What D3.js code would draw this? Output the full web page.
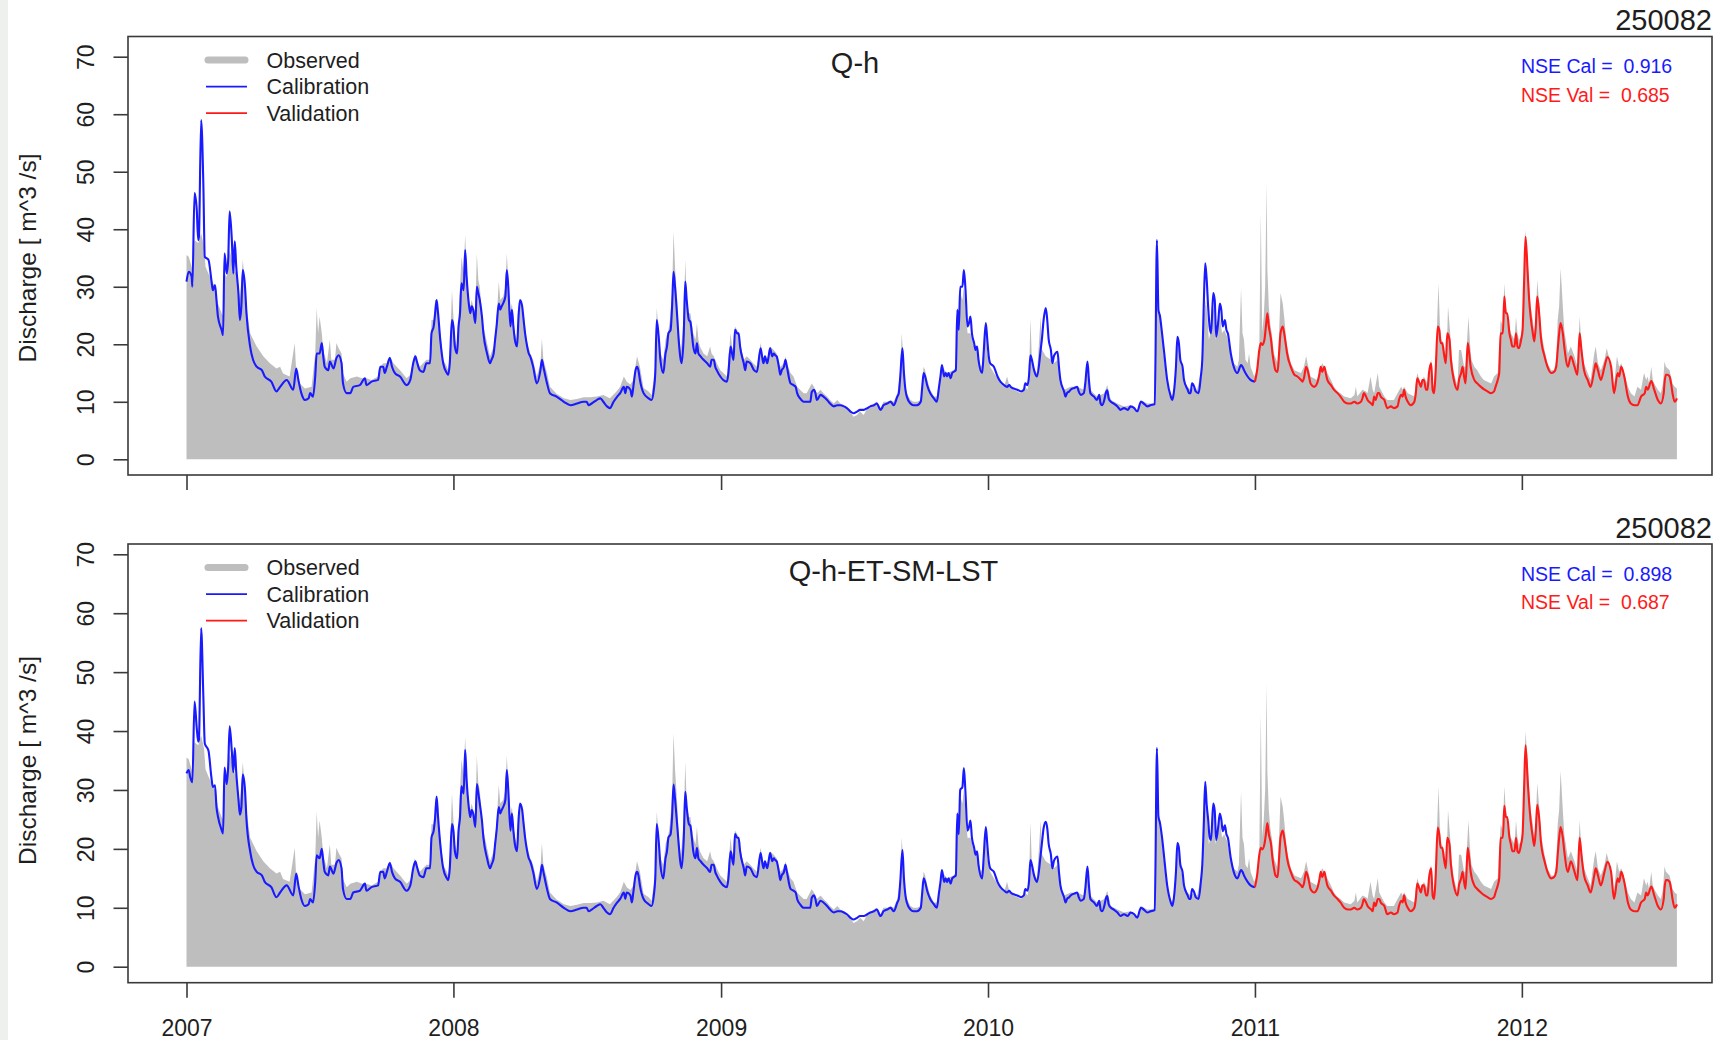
<!DOCTYPE html>
<html>
<head>
<meta charset="utf-8">
<script src="https://cdn.jsdelivr.net/npm/d3@7"></script>
<style>
  html, body { margin: 0; padding: 0; background: #ffffff; }
  svg { display: block; font-family: "Liberation Sans", Arial, Helvetica, sans-serif; }
</style>
</head>
<body>
<svg id="chart" width="1722" height="1040"></svg>
<script>
// ---- Chart content --------------------------------------------------------
const stationId = "250082";
const panelTitles = ["Q-h", "Q-h-ET-SM-LST"];
const nseCal = [0.916, 0.898];
const nseVal = [0.685, 0.687];
const legendLabels = ["Observed", "Calibration", "Validation"];
const yearTicks = [2007, 2008, 2009, 2010, 2011, 2012];
const yTicks = [0, 10, 20, 30, 40, 50, 60, 70];
const yAxisTitle = "Discharge [ m^3 /s]";

// Series are [days since 2007-01-01, discharge m^3/s]
const validationStartDay = 1461; // 2011-01-01

const observed = [
  [0,35.5],[3,35.2],[7,33.5],[9,32.3],[11,38.1],[16,37.6],[20,39.3],[24,37],[26,33.5],[30,32.3],[34,31.2],[39,30],
  [43,27.1],[48,25.4],[50,25],[52,32.3],[55,31.7],[59,36.4],[64,33.5],[68,32.3],[73,27.7],[77,34.7],[80,30],[82,26.6],
  [87,21.9],[96,19.6],[105,17.9],[114,16.7],[123,15.8],[128,16.1],[132,14.9],[141,14.4],[148,20.2],[150,15.2],[155,13.2],
  [162,12.3],[171,12.6],[176,18.4],[178,26.3],[180,21.9],[182,24.8],[185,21.9],[187,19],[192,16.7],[196,20.8],[198,17.3],
  [203,17.3],[205,20.2],[208,19.3],[212,18.4],[214,14.9],[219,13.5],[224,14.1],[233,14.4],[240,14.1],[246,14.1],[253,13.8],
  [262,14.4],[265,16.1],[269,16.7],[274,16.7],[278,17.9],[283,16.7],[292,15.5],[301,14.1],[306,14.7],[310,16.7],[312,18.4],
  [315,17.3],[319,16.1],[328,17.3],
  [333,17.3],[335,24.2],[338,24.2],[340,27.7],[342,27.7],[347,21.9],[351,17.3],[356,16.1],[358,15.5],[360,18.4],[363,29.4],
  [365,24.8],[367,20.8],[370,19.6],[372,24.2],[374,30],[376,35.2],[379,32.3],[381,39],[383,33.5],[385,27.7],[388,26.6],
  [390,27.7],[392,26.6],[395,25.4],[397,35.8],[399,31.2],[401,30],[404,25.4],[406,23.1],[411,20.2],[415,17.9],[420,19.6],
  [422,21.9],[424,24.2],[427,30.9],[429,27.7],[433,28.3],[436,30],[438,35.8],[440,31.2],[442,25.4],[445,27.1],[447,24.2],
  [449,21.9],[452,20.8],[454,25.4],[456,27.7],[461,25.4],[465,20.8],[470,18.4],[474,17.3],[479,14.4],[484,16.7],[486,21],
  [488,17.3],[493,15],[497,12.6],[506,11.4],[516,10.6],[525,10.3],[534,10.5],[543,10.8],[552,10.8],[561,10.9],[570,11.2],
  [579,10.6],[588,11.8],[593,12.6],[598,14.4],[602,13.5],[607,13],[611,13.8],[616,17.9],[620,16.1],[625,12.4],[632,11.8],
  [636,11.2],[641,16.1],[643,26.3],[646,21.9],[648,18.4],[652,17.3],[655,20.8],[659,22.5],[661,24.2],[664,28.9],[666,39.6],
  [668,33.5],[671,27.7],[673,22],[676,19],
  [680,24.8],[682,34.7],[684,27.7],[687,25.4],[689,25.4],[693,21.9],[696,20.8],[698,23.7],[700,20.8],[702,19.6],[707,18.4],
  [712,17.9],[716,19.6],[718,18.4],[721,17.9],[725,16.7],[730,15.5],[734,15],[739,14.4],[744,21.9],[746,19.6],[748,18.4],
  [750,23.1],[753,22.5],[755,21.9],[757,20.2],[762,17.3],[766,17.9],[771,17.3],[775,16.7],[780,16.1],[785,20.2],[789,17.3],
  [794,17.3],[798,19.6],[803,19],[807,18.4],[812,16.1],[817,16.7],[819,17.9],[821,16.7],[826,15],[830,14.4],[835,12.6],
  [839,12.1],[844,11.5],[848,11.5],[855,13.2],[858,12.6],[862,11.5],[867,12.1],[871,11.5],[876,10.9],[880,10.3],[885,9.7],
  [890,10.3],[894,9.7],[899,9.4],[903,8.9],[908,8.3],[912,7.4],[917,7.7],[921,8.3],[926,7.7],[931,8.9],[935,9.2],[940,9.7],
  [944,10],[949,8.9],[953,10],[958,10],[963,10.3],[967,10],[972,11.5],[976,15],[978,21.9],[981,16.1],[983,12.6],[985,11.5],
  [990,10.3],[994,10],[999,10],[1004,10.3],[1006,13.8],[1008,16.1],[1010,15.5],[1013,13.8],[1017,12.1],
  [1022,10.9],[1026,10.9],[1031,14.4],[1033,16.1],[1040,15],[1049,15.5],[1052,16.1],[1054,26.6],[1056,22.5],[1058,28.9],
  [1061,27.7],[1063,30],[1065,26.6],[1068,21.9],[1072,21.9],[1077,19.6],[1079,19.9],[1081,19],[1086,16.1],[1090,16.7],
  [1093,22.5],[1095,18.4],[1099,16.1],[1104,15],[1109,14.1],[1113,13.2],[1118,12.6],[1122,14.4],[1125,12.9],[1131,12.1],
  [1141,11.5],[1147,12.6],[1150,12.1],[1152,13.8],[1154,24.5],[1156,17.3],[1159,15.5],[1163,15],[1168,24.8],[1170,19],
  [1175,17.9],[1182,17.3],[1186,16.7],[1191,17.3],[1195,13.8],[1200,12.1],[1209,12.6],[1218,12.6],[1227,12.1],[1232,16.1],
  [1236,12.1],[1245,10.9],[1255,11.5],[1259,12.9],[1264,10.3],[1273,9.7],[1282,9.2],[1291,9.4],[1300,8],[1305,10.3],
  [1314,9.7],[1323,9.7],[1325,21.9],[1327,36.5],[1330,24.8],[1332,24.2],[1337,17.3],[1341,13.2],[1346,10.9],[1350,11.5],
  [1355,20.8],[1359,17.3],
  [1364,13.8],[1369,12.6],[1373,12.1],[1378,12.6],[1382,12.1],[1387,15],[1389,16.7],[1391,24.8],[1394,27.7],[1396,24.8],
  [1398,20.8],[1400,21.9],[1403,25.4],[1405,26.6],[1407,20.8],[1410,23.1],[1412,25.4],[1414,24.2],[1416,21.9],[1419,22.5],
  [1423,21.3],[1428,18.4],[1432,16.7],[1437,16.1],[1439,17.3],[1442,29.7],[1444,21.9],[1446,20.8],[1448,17.3],[1451,16.7],
  [1453,18.4],[1455,16.1],[1460,14.4],[1464,15.5],[1467,19.5],[1469,42.8],[1471,22],[1473,24.8],[1475,30],[1477,48],
  [1478,33],[1480,26.5],[1482,23.5],[1484,21.9],[1487,18.4],[1492,16.7],[1494,21.9],[1496,28.9],[1499,27.1],[1501,24.8],
  [1503,21.9],[1505,19.6],
  [1510,16.7],[1515,15.5],[1524,15],[1528,16.1],[1531,17.9],[1533,16.7],[1537,14.4],[1546,13.8],[1551,16.1],[1553,16.7],
  [1556,16.1],[1560,15],[1565,13.8],[1569,12.6],[1574,11.8],[1578,11.5],[1583,10.9],[1592,10.6],[1597,11.2],[1599,12.6],
  [1601,10.9],[1608,12.1],[1613,11.8],[1615,11.5],[1619,14.4],[1622,12.1],[1624,11.5],[1629,15],[1631,12.6],[1633,12.1],
  [1638,10.9],[1642,10.3],[1651,10.3],[1656,11.5],[1661,12.6],[1663,12.1],[1665,12.6],[1670,11.5],[1679,10.9],[1681,13.2],
  [1683,15],[1686,13.8],[1688,13.2],[1692,14.4],[1697,13.2],[1699,16.1],[1702,17.3],
  [1704,13.2],[1706,12.6],[1708,16.1],[1712,30.6],[1714,23.1],[1716,20.8],[1719,20.2],[1721,18.4],[1723,17.3],[1725,26.6],
  [1728,21.9],[1730,17.9],[1733,15],[1738,12.6],[1740,19],[1743,19],[1747,16.1],[1749,16.1],[1753,24.8],[1755,20.2],
  [1757,17.3],[1761,16.1],[1765,15.5],[1770,14.4],[1774,13.8],[1779,13.5],[1784,13.2],[1788,14.4],[1793,15],[1797,24.2],
  [1800,23.1],[1802,30.6],[1804,26.6],[1806,25.4],[1809,23.1],[1811,21.9],[1816,20.8],[1818,24.8],[1820,21.9],[1822,20.8],
  [1825,21.3],[1827,23.7],[1829,32.3],[1831,39.9],[1834,34.7],[1836,30],[1838,26.6],[1841,24.2],[1843,21.9],[1845,24.2],
  [1847,31.2],[1850,26.6],[1852,22.5],[1857,19],[1861,16.7],[1866,15.5],[1870,15.5],[1873,17.3],[1875,24.2],[1877,26.6],
  [1879,33.2],[1882,26.6],[1884,22.5],[1889,18.4],[1893,19.6],[1898,17.9],[1902,16.1],[1905,24.8],[1907,20.8],[1909,18.4],
  [1911,16.7],[1916,15],[1920,13.8],[1925,18.4],[1927,19.6],[1930,16.7],[1934,15.5],[1939,17.3],[1942,19.3],[1946,17.3],
  [1948,16.1],[1952,12.6],[1956,17.9],[1959,16.1],[1962,16.7],[1966,15],[1971,12.6],[1975,11.5],[1980,10.9],[1984,12.6],
  [1989,12.1],[1993,15],[1996,13.8],[1998,14.4],[2000,13.2],[2003,16.1],[2005,13.8],[2007,13.2],[2012,12.1],[2016,11.5],
  [2019,13.2],[2021,17],[2023,16.1],[2028,15.5],[2032,13.2],[2035,12.6],[2038,12.3]
];

// Simulated discharge, model calibrated on Q-h
const simQh = [
  [0,30.9],[3,32.6],[7,31.8],[8,30],[11,46.3],[14,43.4],[16,38.1],[17,38.7],[20,59],[23,48],[25,35.2],[30,34.7],[34,31.2],
  [36,29.4],[39,30.3],[41,27.7],[43,24.8],[48,22.5],[50,21.6],[52,35.8],[55,32.3],[57,34.7],[59,43.1],[62,38.1],[64,32.3],
  [66,37.9],[68,33.5],[71,28.9],[73,24.2],[75,26.6],[77,32.9],[80,30],[82,25.4],[87,19.6],[91,17.3],[96,16.1],[103,15.5],
  [107,14.4],[116,13.5],[123,11.8],[128,12.6],[137,13.8],[146,12.1],[150,15.8],[153,13.8],[157,11.5],[162,10.3],[167,10.6],
  [169,11.5],[173,10.9],[176,14.4],[178,18.4],[182,18.4],[185,20.2],[187,17.9],[189,16.1],[194,15.5],[196,17],[201,15.8],
  [205,17.6],[208,18.1],[212,16.7],[214,13.2],[219,11.5],[224,11.5],[228,12.6],[237,12.9],[244,14.1],[246,12.9],[253,13.5],
  [262,13.8],[265,16.1],[269,16.1],[271,15],[274,16.1],[278,17.6],[281,16.1],[285,15],[292,14.4],[301,12.9],[306,13.8],
  [310,16.7],[313,17.9],[315,17],[319,15.5],[324,15.2],[328,16.7],
  [333,16.7],[335,21.9],[338,23.1],[340,25.4],[342,27.7],[344,25.4],[347,20.8],[351,16.7],[356,15],[358,14.7],[360,16.7],
  [363,24.2],[365,23.1],[367,19.6],[370,18.4],[372,23.1],[374,25.4],[376,30.6],[379,29.4],[381,36.4],[383,31.8],[386,27.1],
  [388,25.4],[390,26.6],[392,26],[395,23.7],[397,30],[399,28.9],[401,27.7],[404,24.8],[406,21.9],[411,18.4],[415,16.7],
  [417,17.3],[420,18.4],[422,20.8],[424,23.1],[427,27.1],[429,26],[431,26.6],[433,27.1],[436,28.3],[438,32.9],[440,30],
  [443,23.1],[445,26],[447,23.1],[449,20.8],[452,19.6],[454,24.8],[456,27.7],[459,26.6],[461,24.2],[463,21.9],[465,20.2],
  [468,18.4],[470,17.9],[474,16.1],[479,13.2],[484,15.5],[486,17.3],[488,16.1],[493,13.2],[497,11.5],[506,10.9],[516,10],
  [525,9.4],[534,9.7],[543,10],[547,10],[550,9.4],[554,9.7],[561,10.3],[566,10.6],[570,10],[575,9.2],[579,8.9],[584,10],
  [589,10.9],[593,11.5],[598,12.6],[600,11.5],[602,12.6],[607,12.1],[609,10.9],[611,12.6],[614,15.5],[616,16.1],[618,15.5],
  [620,13.8],[625,11.5],[632,10.6],[636,10.3],[639,12.1],[641,15],[643,24.2],[646,20.8],[648,17.3],[652,15],[655,18.4],
  [657,19.6],[659,21.9],[662,22.5],[664,26.6],[666,32.6],[668,30],[671,24.8],[673,20.8],[675,18],
  [677,16.7],[680,21.9],[682,30.9],[684,27.7],[687,24.2],[689,23.9],[691,21.9],[693,19.6],[696,18.4],[698,20.2],[700,18.4],
  [703,17.9],[707,17.3],[712,16.7],[716,16.1],[718,17.3],[721,17.3],[723,16.1],[725,15.5],[730,14.4],[734,13.8],[739,13.5],
  [741,15],[744,19.6],[746,18.4],[748,17.3],[750,22.5],[753,21.9],[755,21.9],[757,19.6],[762,16.7],[764,15.5],[766,17],
  [771,16.7],[776,15.5],[780,15.2],[785,19.3],[787,17.9],[789,16.7],[791,17.9],[794,16.7],[796,17.9],[798,19.3],[801,17.9],
  [803,18.4],[805,18.1],[807,17.9],[810,16.1],[812,14.7],[814,15.5],[817,16.1],[819,17.3],[821,16.1],[826,13.2],[830,12.9],
  [833,12.6],[835,11.5],[839,10.6],[844,10],[848,10],[853,10],[855,11.7],[858,12.1],[860,11.5],[862,10.3],[867,11.2],
  [871,10.9],[876,10.3],[880,9.7],[885,9.2],[890,9.4],[894,9.4],[899,9.2],[903,8.9],[908,8.3],[912,8],[917,8.3],[921,8.6],
  [926,8.6],[931,8.9],[935,9.2],[940,9.4],[944,9.7],[949,8.6],[951,8.9],[953,9.4],[958,9.7],[963,10],[965,9.7],[967,9.4],
  [972,10.9],[974,11.5],[976,14.4],[979,19.3],[981,15.1],[983,12.2],[985,10.9],[990,9.7],[994,9.4],[999,9.4],[1004,10],
  [1006,12.5],[1008,15],[1010,14.4],[1013,12.8],[1017,11.5],
  [1022,10.6],[1026,10],[1029,12.6],[1031,14.4],[1033,16.4],[1036,14.4],[1038,15],[1040,14.4],[1042,15],[1045,14.1],
  [1047,15],[1049,15.2],[1052,15.5],[1054,26],[1056,22.5],[1058,30],[1061,30],[1063,32.9],[1065,30],[1068,23.1],[1070,23.7],
  [1072,24.8],[1074,21.9],[1077,20.2],[1079,19],[1081,19.6],[1083,17.3],[1088,15],[1090,18.4],[1093,23.7],[1095,20.8],
  [1097,17.9],[1099,16.7],[1104,16.1],[1109,14.4],[1113,13.5],[1118,12.9],[1122,12.6],[1125,12.9],[1127,12.6],[1131,12.3],
  [1136,12.1],[1141,11.8],[1145,12.1],[1147,13.2],[1150,12.9],[1152,14.4],[1154,18.1],[1156,17.3],[1159,15.5],[1163,14.4],
  [1168,19],[1170,21.3],[1172,24.2],[1175,26.3],[1177,24.2],[1179,20.8],[1182,19],[1184,16.7],[1186,17.9],[1188,18.4],
  [1191,18.7],[1193,16.1],[1195,13.8],[1200,11.8],[1202,10.9],[1204,11.5],[1207,11.8],[1209,12.1],[1214,12.4],[1218,12.6],
  [1220,11.8],[1223,11.2],[1227,11.5],[1229,13.2],[1232,17],[1234,13.8],[1236,11.5],[1241,10.9],[1245,10.3],[1248,11.2],
  [1250,9.7],[1252,9.4],[1255,10.3],[1257,11.5],[1259,12],[1261,10.6],[1264,10],[1268,9.7],[1273,9.2],[1277,8.6],[1282,8.9],
  [1287,8.6],[1291,9.2],[1296,8.9],[1300,8.3],[1305,10],[1309,9.7],[1314,9.2],[1318,9.4],[1324,9.6],[1327,38.1],[1329,26],
  [1331,25],[1334,21.9],[1337,18.4],[1341,13.8],[1346,10.9],[1348,10.3],[1350,11.5],[1353,16.1],[1355,21.3],[1357,20.2],
  [1359,17.3],
  [1362,16.1],[1364,13.8],[1369,12.1],[1371,11.5],[1373,11.5],[1375,13.2],[1378,12.6],[1380,11.8],[1384,11.5],[1387,14.4],
  [1389,17.3],[1391,26.6],[1393,34.1],[1395,31.3],[1397,26.6],[1399,23.1],[1401,21.9],[1404,28.9],[1406,27.7],[1408,21.3],
  [1411,24.2],[1413,27.1],[1415,26],[1417,23.1],[1420,24.2],[1422,22.5],[1424,21.9],[1428,18.4],[1432,16.1],[1437,15],
  [1442,16.4],[1444,16.1],[1446,15.5],[1451,14.4],[1455,13.8],[1461,13.5],
  [1464,15.5],[1467,19],[1469,20.2],[1471,19.9],[1474,20.8],[1476,23.1],[1478,25.4],[1480,23.1],[1483,20.8],[1485,18.4],
  [1487,16.7],[1489,15.5],[1492,15.2],[1494,18.4],[1496,21.9],[1499,23.1],[1501,21.9],[1503,20.2],[1505,18.4],[1510,16.1],
  [1515,14.7],[1519,14.4],[1524,13.8],[1526,13.5],[1528,14.1],[1531,16.1],[1533,15.5],[1535,14.4],[1537,13.2],[1542,12.6],
  [1546,13.2],[1549,14.7],[1551,16.1],[1553,15.2],[1556,16.1],[1558,14.9],[1560,13.8],[1565,12.9],[1569,12.1],[1574,11.5],
  [1578,10.9],[1583,10],[1588,9.7],[1592,9.7],[1597,10],[1601,9.7],[1606,10],[1608,10.6],[1610,11.5],[1613,10.9],
  [1615,10.3],[1620,9.7],[1622,9.4],[1624,10.9],[1626,10.3],[1629,11.5],[1631,11.5],[1633,10.9],[1638,10.3],[1642,8.9],
  [1647,9.2],[1651,8.9],[1656,9.2],[1658,10.3],[1661,11.2],[1663,10.9],[1665,12.1],[1667,10.9],[1670,10],[1674,9.4],
  [1679,10],[1681,11.5],[1683,14.1],[1686,13.2],[1688,12.6],[1690,13.8],[1692,13.8],[1695,12.1],[1697,12.1],[1699,15],
  [1702,16.7],
  [1704,12.1],[1706,11.5],[1708,15],[1711,23.1],[1713,22.5],[1715,20.2],[1717,20.2],[1720,17.9],[1722,16.7],[1724,21.9],
  [1727,20.8],[1729,17.3],[1733,13.8],[1738,12.1],[1740,13.8],[1743,15],[1745,16.1],[1747,14.4],[1749,13.2],[1752,20.2],
  [1754,18.4],[1756,16.1],[1761,13.8],[1765,13.2],[1770,12.6],[1775,12.1],[1779,11.8],[1784,11.5],[1788,11.8],[1790,12.6],
  [1793,13.8],[1795,15],[1797,21.9],[1800,21.9],[1802,28.3],[1804,25.4],[1806,25.4],[1809,21.9],[1811,20.8],[1813,19.6],
  [1816,19.6],[1818,21.9],[1820,19.6],[1822,19.3],[1825,20.8],[1827,22.5],[1829,30.6],[1831,38.7],[1834,32.3],[1836,27.7],
  [1838,24.8],[1841,21.9],[1843,20.5],[1845,23.1],[1847,28.3],[1850,24.8],[1852,21.3],[1857,17.9],[1861,16.1],[1866,15],
  [1870,15.2],[1873,16.1],[1875,19],[1877,21.9],[1879,23.7],[1882,21.9],[1884,19.6],[1889,16.1],[1893,17.9],[1898,16.1],
  [1902,14.7],[1905,21.9],[1907,19.6],[1909,17.3],[1911,15.5],[1916,13.8],[1920,12.6],[1925,15.5],[1927,16.7],[1930,15.5],
  [1934,13.8],[1939,16.1],[1943,17.8],[1948,16.1],[1952,11.5],[1957,15],[1959,14.4],[1962,16.1],[1966,14.4],[1971,10.9],
  [1975,9.7],[1980,9.4],[1984,9.4],[1989,10.9],[1994,11.5],[1996,12.6],[1998,12.1],[2003,13.6],[2007,12.1],[2012,10.3],
  [2016,9.7],[2020,11.5],[2021,13.2],[2023,14.7],[2025,14.7],[2028,14.4],[2030,13.2],[2032,11.5],[2035,10],[2037,10.3],
  [2038,10.6]
];

// Simulated discharge, model calibrated on Q-h plus ET, SM and LST
const simMulti = [
  [0,32.8],[3,33.4],[5,32.2],[8,31.3],[11,45],[14,40.5],[16,38.2],[17,38.5],[20,57.5],[23,46],[25,37.9],[30,36.7],[34,32.2],
  [36,30.5],[39,30.8],[41,27.1],[43,25.5],[48,23.2],[50,22.6],[52,33.8],[55,31],[57,34],[59,40.8],[62,36.5],[64,33],
  [66,37.1],[68,33],[71,28.5],[73,25.8],[75,27],[77,32.6],[80,30],[82,25],[87,19.6],[91,17.3],[96,16.1],[103,15.5],
  [107,14.4],[116,13.5],[123,11.8],[128,12.6],[137,13.8],[146,12.1],[150,15.8],[153,13.8],[157,11.5],[162,10.3],[167,10.6],
  [169,11.5],[173,10.9],[176,14.4],[178,18.9],[182,18.4],[185,20],[187,17.9],[189,16.1],[194,15.5],[196,17],[201,15.8],
  [205,17.6],[208,18.1],[212,16.7],[214,13.2],[219,11.5],[224,11.5],[228,12.6],[237,12.9],[244,14.1],[246,12.9],[253,13.5],
  [262,13.8],[265,16.1],[269,16.1],[271,15],[274,16.1],[278,17.6],[281,16.1],[285,15],[292,14.4],[301,12.9],[306,13.8],
  [310,16.7],[313,17.9],[315,17],[319,15.5],[324,15.2],[328,16.7],
  [333,16.7],[335,21.9],[338,23.1],[340,25.4],[342,28.9],[344,25.4],[347,20.8],[351,16.7],[356,15],[358,14.7],[360,16.7],
  [363,24.2],[365,23.1],[367,19.6],[370,18.4],[372,23.1],[374,25.4],[376,30.6],[379,29.4],[381,36.8],[383,31.8],[386,27.1],
  [388,25.4],[390,26.6],[392,26],[395,23.7],[397,31],[399,29.5],[401,27.7],[404,24.8],[406,21.9],[411,18.4],[415,16.7],
  [417,17.3],[420,18.4],[422,20.8],[424,23.1],[427,27.1],[429,26],[431,26.6],[433,27.1],[436,28.3],[438,33.4],[440,30],
  [443,23.1],[445,26],[447,23.1],[449,20.8],[452,19.6],[454,24.8],[456,27.7],[459,26.6],[461,24.2],[463,21.9],[465,20.2],
  [468,18.4],[470,17.9],[474,16.1],[479,13.2],[484,15.5],[486,17.3],[488,16.1],[493,13.2],[497,11.5],[506,10.9],[516,10],
  [525,9.4],[534,9.7],[543,10],[547,10],[550,9.4],[554,9.7],[561,10.3],[566,10.6],[570,10],[575,9.2],[579,8.9],[584,10],
  [589,10.9],[593,11.5],[598,12.6],[600,11.5],[602,12.6],[607,12.1],[609,10.9],[611,12.6],[614,15.5],[616,16.1],[618,15.5],
  [620,13.8],[625,11.5],[632,10.6],[636,10.3],[639,12.1],[641,15],[643,24.2],[646,20.8],[648,17.3],[652,15],[655,18.4],
  [657,19.6],[659,21.9],[662,22.5],[664,25.5],[666,30.9],[668,28.5],[671,24],[673,20.8],[675,18],
  [677,16.7],[680,21.9],[682,29.7],[684,27],[687,24.2],[689,23.9],[691,21.9],[693,19.6],[696,18.4],[698,20.2],[700,18.4],
  [703,17.9],[707,17.3],[712,16.7],[716,16.1],[718,17.3],[721,17.3],[723,16.1],[725,15.5],[730,14.4],[734,13.8],[739,13.5],
  [741,15],[744,19.6],[746,18.4],[748,17.3],[750,22.5],[753,21.9],[755,21.9],[757,19.6],[762,16.7],[764,15.5],[766,17],
  [771,16.7],[776,15.5],[780,15.2],[785,19.3],[787,17.9],[789,16.7],[791,17.9],[794,16.7],[796,17.9],[798,19.3],[801,17.9],
  [803,18.4],[805,18.1],[807,17.9],[810,16.1],[812,14.7],[814,15.5],[817,16.1],[819,17.3],[821,16.1],[826,13.2],[830,12.9],
  [833,12.6],[835,11.5],[839,10.6],[844,10],[848,10],[853,10],[855,11.7],[858,12.1],[860,11.5],[862,10.3],[867,11.2],
  [871,10.9],[876,10.3],[880,9.7],[885,9.2],[890,9.4],[894,9.4],[899,9.2],[903,8.9],[908,8.3],[912,8],[917,8.3],[921,8.6],
  [926,8.6],[931,8.9],[935,9.2],[940,9.4],[944,9.7],[949,8.6],[951,8.9],[953,9.4],[958,9.7],[963,10],[965,9.7],[967,9.4],
  [972,10.9],[974,11.5],[976,14.4],[979,19.8],[981,15.1],[983,12.2],[985,10.9],[990,9.7],[994,9.4],[999,9.4],[1004,10],
  [1006,12.5],[1008,15],[1010,14.4],[1013,12.8],[1017,11.5],
  [1022,10.6],[1026,10],[1029,12.6],[1031,14.4],[1033,16.4],[1036,14.4],[1038,15],[1040,14.4],[1042,15],[1045,14.1],
  [1047,15],[1049,15.2],[1052,15.5],[1054,26],[1056,22.5],[1058,30],[1061,30.5],[1063,33.7],[1065,30],[1068,23.1],[1070,23.7],
  [1072,24.8],[1074,21.9],[1077,20.2],[1079,19],[1081,19.6],[1083,17.3],[1088,15],[1090,18.4],[1093,23.7],[1095,20.8],
  [1097,17.9],[1099,16.7],[1104,16.1],[1109,14.4],[1113,13.5],[1118,12.9],[1122,12.6],[1125,12.9],[1127,12.6],[1131,12.3],
  [1136,12.1],[1141,11.8],[1145,12.1],[1147,13.2],[1150,12.9],[1152,14.4],[1154,18.1],[1156,17.3],[1159,15.5],[1163,14.4],
  [1168,19],[1170,21.3],[1172,23.5],[1175,24.6],[1177,23.5],[1179,20.8],[1182,19],[1184,16.7],[1186,17.9],[1188,18.4],
  [1191,18.7],[1193,16.1],[1195,13.8],[1200,11.8],[1202,10.9],[1204,11.5],[1207,11.8],[1209,12.1],[1214,12.4],[1218,12.6],
  [1220,11.8],[1223,11.2],[1227,11.5],[1229,13.2],[1232,17],[1234,13.8],[1236,11.5],[1241,10.9],[1245,10.3],[1248,11.2],
  [1250,9.7],[1252,9.4],[1255,10.3],[1257,11.5],[1259,12],[1261,10.6],[1264,10],[1268,9.7],[1273,9.2],[1277,8.6],[1282,8.9],
  [1287,8.6],[1291,9.2],[1296,8.9],[1300,8.3],[1305,10],[1309,9.7],[1314,9.2],[1318,9.4],[1324,9.6],[1327,37.1],[1329,25.5],
  [1331,24.5],[1334,21.9],[1337,18.4],[1341,13.8],[1346,10.9],[1348,10.3],[1350,11.5],[1353,16.1],[1355,21],[1357,20.2],
  [1359,17.3],
  [1362,16.1],[1364,13.8],[1369,12.1],[1371,11.5],[1373,11.5],[1375,13.2],[1378,12.6],[1380,11.8],[1384,11.5],[1387,14.4],
  [1389,17.3],[1391,24],[1393,31.4],[1395,27.5],[1397,25],[1399,22],[1401,21.5],[1404,27.7],[1406,26.5],[1408,21.5],
  [1411,24],[1413,26],[1415,25],[1417,23],[1420,24],[1422,22.5],[1424,21.9],[1428,18.4],[1432,16.1],[1437,15],
  [1442,16.4],[1444,16.1],[1446,15.5],[1451,14.4],[1455,13.8],[1461,13.5],
  [1464,15.5],[1467,19],[1469,20.2],[1471,19.9],[1474,20.8],[1476,22.5],[1478,24.4],[1480,22.5],[1483,20.8],[1485,18.4],
  [1487,16.7],[1489,15.5],[1492,15.2],[1494,18.4],[1496,21.9],[1499,23.1],[1501,21.9],[1503,20.2],[1505,18.4],[1510,16.1],
  [1515,14.7],[1519,14.4],[1524,13.8],[1526,13.5],[1528,14.1],[1531,16.1],[1533,15.5],[1535,14.4],[1537,13.2],[1542,12.6],
  [1546,13.2],[1549,14.7],[1551,16.1],[1553,15.2],[1556,16.1],[1558,14.9],[1560,13.8],[1565,12.9],[1569,12.1],[1574,11.5],
  [1578,10.9],[1583,10],[1588,9.7],[1592,9.7],[1597,10],[1601,9.7],[1606,10],[1608,10.6],[1610,11.5],[1613,10.9],
  [1615,10.3],[1620,9.7],[1622,9.4],[1624,10.9],[1626,10.3],[1629,11.5],[1631,11.5],[1633,10.9],[1638,10.3],[1642,8.9],
  [1647,9.2],[1651,8.9],[1656,9.2],[1658,10.3],[1661,11.2],[1663,10.9],[1665,12.1],[1667,10.9],[1670,10],[1674,9.4],
  [1679,10],[1681,11.5],[1683,14.1],[1686,13.2],[1688,12.6],[1690,13.8],[1692,13.8],[1695,12.1],[1697,12.1],[1699,15],
  [1702,16.7],
  [1704,12.1],[1706,11.5],[1708,15],[1711,23.6],[1713,22.5],[1715,20.2],[1717,20.2],[1720,17.9],[1722,16.7],[1724,21.9],
  [1727,20.8],[1729,17.3],[1733,13.8],[1738,12.1],[1740,13.8],[1743,15],[1745,16.1],[1747,14.4],[1749,13.2],[1752,20.2],
  [1754,18.4],[1756,16.1],[1761,13.8],[1765,13.2],[1770,12.6],[1775,12.1],[1779,11.8],[1784,11.5],[1788,11.8],[1790,12.6],
  [1793,13.8],[1795,15],[1797,21.9],[1800,21.9],[1802,27.3],[1804,25.4],[1806,25.4],[1809,21.9],[1811,20.8],[1813,19.6],
  [1816,19.6],[1818,21.9],[1820,19.6],[1822,19.3],[1825,20.8],[1827,22.5],[1829,30],[1831,37.6],[1834,31.5],[1836,27.7],
  [1838,24.8],[1841,21.9],[1843,20.5],[1845,23.1],[1847,27.5],[1850,24.8],[1852,21.3],[1857,17.9],[1861,16.1],[1866,15],
  [1870,15.2],[1873,16.1],[1875,19],[1877,21.9],[1879,23.7],[1882,21.9],[1884,19.6],[1889,16.1],[1893,17.9],[1898,16.1],
  [1902,14.7],[1905,21.9],[1907,19.6],[1909,17.3],[1911,15.5],[1916,13.8],[1920,12.6],[1925,15.5],[1927,16.7],[1930,15.5],
  [1934,13.8],[1939,16.1],[1943,17.8],[1948,16.1],[1952,11.5],[1957,15],[1959,14.4],[1962,16.1],[1966,14.4],[1971,10.9],
  [1975,9.7],[1980,9.4],[1984,9.4],[1989,10.9],[1994,11.5],[1996,12.6],[1998,12.1],[2003,13.6],[2007,12.1],[2012,10.3],
  [2016,9.7],[2020,11.5],[2021,13.2],[2023,14.7],[2025,14.7],[2028,14.4],[2030,13.2],[2032,11.5],[2035,10],[2037,10.3],
  [2038,10.6]
];

// ---- Layout ---------------------------------------------------------------
const W = 1722, H = 1040;
const frameLeft = 128, frameRight = 1712;
const panels = [
  { title: panelTitles[0], sim: simQh,    cal: nseCal[0], val: nseVal[0],
    frameTop: 36.5, frameBottom: 475, zeroY: 459.3, maxY: 56.7, titleX: 855, showYearLabels: false },
  { title: panelTitles[1], sim: simMulti, cal: nseCal[1], val: nseVal[1],
    frameTop: 544, frameBottom: 982.7, zeroY: 966.7, maxY: 554.3, titleX: 893.5, showYearLabels: true }
];

const colObs = "#bebebe";
const colCal = "#1a1aff";
const colVal = "#ff1a1a";
const colInk = "#1e1e1e";
const colFrame = "#3a3a3a";
const simWidth = 2.1;

const day0 = Date.UTC(2007, 0, 1);
const toDate = d => new Date(day0 + d * 86400000);

const x = d3.scaleUtc()
  .domain([new Date(Date.UTC(2006, 9, 13)), new Date(Date.UTC(2012, 8, 17))])
  .range([frameLeft, frameRight]);

const svg = d3.select("#chart");

// faint strip on the left edge of the figure
svg.append("rect").attr("x", 0).attr("y", 0).attr("width", 8).attr("height", H).attr("fill", "#eef0ee");

panels.forEach(p => {
  const y = d3.scaleLinear().domain([0, 70]).range([p.zeroY, p.maxY]);
  const g = svg.append("g");

  // observed discharge as filled area
  const area = d3.area()
    .x(d => x(toDate(d[0])))
    .y0(y(0))
    .y1(d => y(d[1]));
  g.append("path").datum(observed)
    .attr("d", area)
    .attr("fill", colObs);

  // simulated discharge: calibration and validation periods
  const line = d3.line()
    .x(d => x(toDate(d[0])))
    .y(d => y(d[1]))
    .curve(d3.curveMonotoneX);
  const calPart = p.sim.filter(d => d[0] <= validationStartDay);
  const valPart = p.sim.filter(d => d[0] >= validationStartDay);
  g.append("path").datum(calPart)
    .attr("d", line).attr("fill", "none")
    .attr("stroke", colCal).attr("stroke-width", simWidth).attr("stroke-linejoin", "round");
  g.append("path").datum(valPart)
    .attr("d", line).attr("fill", "none")
    .attr("stroke", colVal).attr("stroke-width", simWidth).attr("stroke-linejoin", "round");

  // plot frame
  g.append("rect")
    .attr("x", frameLeft).attr("y", p.frameTop)
    .attr("width", frameRight - frameLeft).attr("height", p.frameBottom - p.frameTop)
    .attr("fill", "none").attr("stroke", colFrame).attr("stroke-width", 1.6);

  // y axis: ticks outside the frame, rotated labels
  const yAxis = d3.axisLeft(y).tickValues(yTicks).tickSize(14.5).tickPadding(0).tickFormat(d3.format("d"));
  const ya = g.append("g").attr("transform", `translate(${frameLeft},0)`).call(yAxis);
  ya.select(".domain").remove();
  ya.selectAll(".tick line").attr("stroke", colFrame).attr("stroke-width", 1.6);
  ya.selectAll(".tick text")
    .attr("x", null).attr("dy", null)
    .attr("transform", "translate(-34.5,0) rotate(-90)")
    .attr("text-anchor", "middle")
    .attr("font-size", 23)
    .attr("font-family", "Liberation Sans, Arial, sans-serif")
    .attr("fill", colInk);

  g.append("text")
    .attr("transform", `translate(36,${(p.zeroY + p.maxY) / 2}) rotate(-90)`)
    .attr("text-anchor", "middle")
    .attr("font-size", 24.5)
    .attr("fill", colInk)
    .text(yAxisTitle);

  // x axis: yearly ticks below the frame
  const xAxis = d3.axisBottom(x)
    .tickValues(yearTicks.map(yr => new Date(Date.UTC(yr, 0, 1))))
    .tickSize(15)
    .tickPadding(22)
    .tickFormat(d => p.showYearLabels ? d3.utcFormat("%Y")(d) : "");
  const xa = g.append("g").attr("transform", `translate(0,${p.frameBottom})`).call(xAxis);
  xa.select(".domain").remove();
  xa.selectAll(".tick line").attr("stroke", colFrame).attr("stroke-width", 1.6);
  xa.selectAll(".tick text")
    .attr("font-size", 23)
    .attr("font-family", "Liberation Sans, Arial, sans-serif")
    .attr("fill", colInk);

  // station id above the top-right corner
  g.append("text")
    .attr("x", frameRight).attr("y", p.frameTop - 6.5)
    .attr("text-anchor", "end").attr("font-size", 29).attr("fill", colInk)
    .text(stationId);

  // panel title
  g.append("text")
    .attr("x", p.titleX).attr("y", p.frameTop + 36.5)
    .attr("text-anchor", "middle").attr("font-size", 29).attr("fill", colInk)
    .text(p.title);

  // NSE scores
  g.append("text")
    .attr("x", 1521).attr("y", p.frameTop + 36.5)
    .attr("font-size", 19.5).attr("fill", colCal).style("white-space", "pre")
    .text(`NSE Cal =  ${p.cal.toFixed(3)}`);
  g.append("text")
    .attr("x", 1521).attr("y", p.frameTop + 65)
    .attr("font-size", 19.5).attr("fill", colVal).style("white-space", "pre")
    .text(`NSE Val =  ${p.val.toFixed(3)}`);

  // legend
  const legendStyles = [
    { stroke: colObs, width: 7, cap: "round", x1: 208, x2: 245 },
    { stroke: colCal, width: 1.8, cap: "butt", x1: 206, x2: 247 },
    { stroke: colVal, width: 1.8, cap: "butt", x1: 206, x2: 247 }
  ];
  legendLabels.forEach((label, i) => {
    const ly = p.frameTop + 23.5 + i * 26.6;
    const s = legendStyles[i];
    g.append("line")
      .attr("x1", s.x1).attr("x2", s.x2).attr("y1", ly).attr("y2", ly)
      .attr("stroke", s.stroke).attr("stroke-width", s.width).attr("stroke-linecap", s.cap);
    g.append("text")
      .attr("x", 266.5).attr("y", ly + 7.5)
      .attr("font-size", 21.5).attr("fill", colInk)
      .text(label);
  });
});
</script>
</body>
</html>
